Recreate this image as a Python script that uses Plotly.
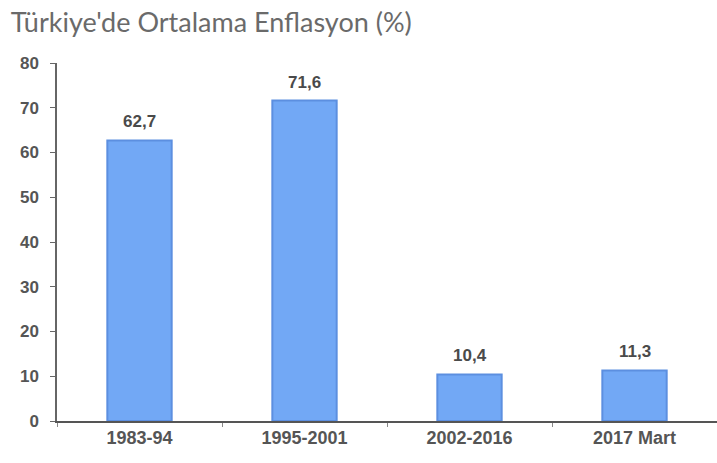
import plotly.graph_objects as go

categories = ["1983-94", "1995-2001", "2002-2016", "2017 Mart"]
values = [62.7, 71.6, 10.4, 11.3]
y_ticks = [0, 10, 20, 30, 40, 50, 60, 70, 80]

fig = go.Figure()
fig.add_trace(go.Bar(
    x=categories, y=values,
    marker=dict(color="#72a8f5", line=dict(color="#5c8fe0", width=2)),
    width=0.39,
))

for c, v in zip(categories, values):
    fig.add_annotation(x=c, y=v, text=f"{v:.1f}".replace(".", ","), showarrow=False,
                       yanchor="bottom", yshift=7,
                       font=dict(family="Liberation Sans", size=17, color="#4a4a4a", weight="bold"))

fig.update_layout(
    width=717, height=463,
    margin=dict(l=57, r=0, t=63, b=42),
    paper_bgcolor="white", plot_bgcolor="white",
    separators=",.",
    showlegend=False,
    title=dict(text="Türkiye'de Ortalama Enflasyon (%)", x=0.015, xanchor="left",
               y=0.952, yanchor="middle",
               font=dict(family="Lato", size=27, color="#6a6a6a")),
    xaxis=dict(type="category", range=[-0.5, 3.5], showline=True, linecolor="#555", linewidth=1.5,
               ticks="outside", tickson="boundaries", ticklen=4, tickcolor="#888",
               tickfont=dict(family="Liberation Sans", size=18, color="#555", weight="bold"),
               showgrid=False),
    yaxis=dict(range=[0, 80], tickvals=y_ticks, showline=True, linecolor="#666", linewidth=1.5,
               ticks="outside", ticklen=5, tickcolor="#666", showgrid=False, zeroline=False,
               tickfont=dict(family="Liberation Sans", size=17, color="#555", weight="bold"),
               ticklabelstandoff=8),
)

fig.write_html("out.html")
